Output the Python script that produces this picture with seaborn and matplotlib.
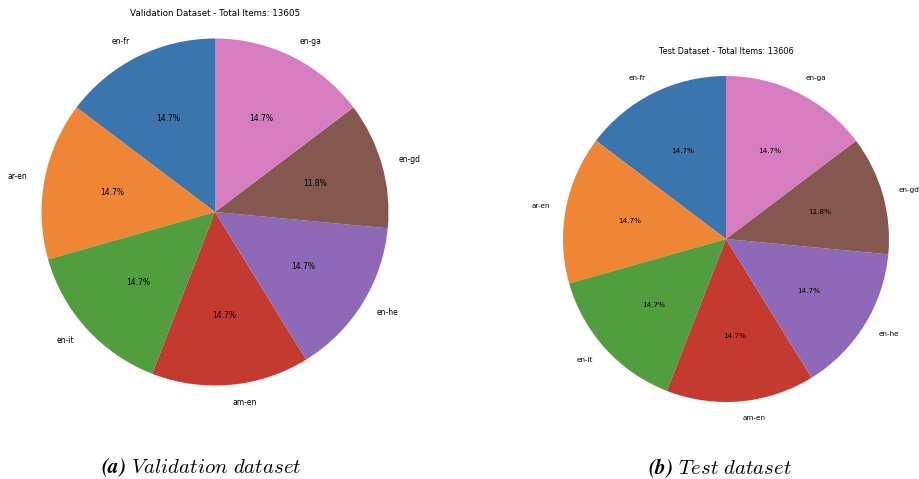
import matplotlib
matplotlib.use("Agg")
import matplotlib.pyplot as plt
import seaborn as sns

sns.set_theme(style="white")
plt.rcParams["font.family"] = ["DejaVu Sans"]
plt.rcParams["mathtext.fontset"] = "cm"
plt.rcParams["text.color"] = "black"

# Language pairs and item counts per split
pairs = ["en-fr", "ar-en", "en-it", "am-en", "en-he", "en-gd", "en-ga"]
val_counts = [2000, 2000, 2000, 2000, 2000, 1605, 2000]
test_counts = [2000, 2000, 2000, 2000, 2000, 1606, 2000]

palette = sns.color_palette(["#3a75ae", "#ef8636", "#519e3e", "#c43a31",
                             "#8e69b8", "#84584e", "#d57dbe"])

W, H = 919, 479
fig = plt.figure(figsize=(W / 100, H / 100), dpi=100)


def pie_axes(cx, cy, r):
    side = 2.5 * r
    return fig.add_axes([(cx - side / 2) / W, (H - cy - side / 2) / H, side / W, side / H])


def draw(ax, counts, fs):
    ax.pie(counts, labels=pairs, colors=palette, autopct="%1.1f%%",
           startangle=90, textprops={"fontsize": fs, "color": "black"},
           wedgeprops={"linewidth": 0})
    ax.set_aspect("equal")


ax1 = pie_axes(215, 212, 173.5)
draw(ax1, val_counts, 5.5)
ax2 = pie_axes(726, 239, 163)
draw(ax2, test_counts, 5.2)

fig.text(215 / W, 1 - 14 / H, f"Validation Dataset - Total Items: {sum(val_counts)}",
         ha="center", va="center", fontsize=6.3)
fig.text(726 / W, 1 - 52 / H, f"Test Dataset - Total Items: {sum(test_counts)}",
         ha="center", va="center", fontsize=5.9)

fig.text(201 / W, 1 - 468 / H, r"$\mathbfit{(a)}\ \mathit{Validation\ dataset}$",
         ha="center", va="center", fontsize=15)
fig.text(720 / W, 1 - 468 / H, r"$\mathbfit{(b)}\ \mathit{Test\ dataset}$",
         ha="center", va="center", fontsize=15)

fig.savefig("out.png", dpi=100)
